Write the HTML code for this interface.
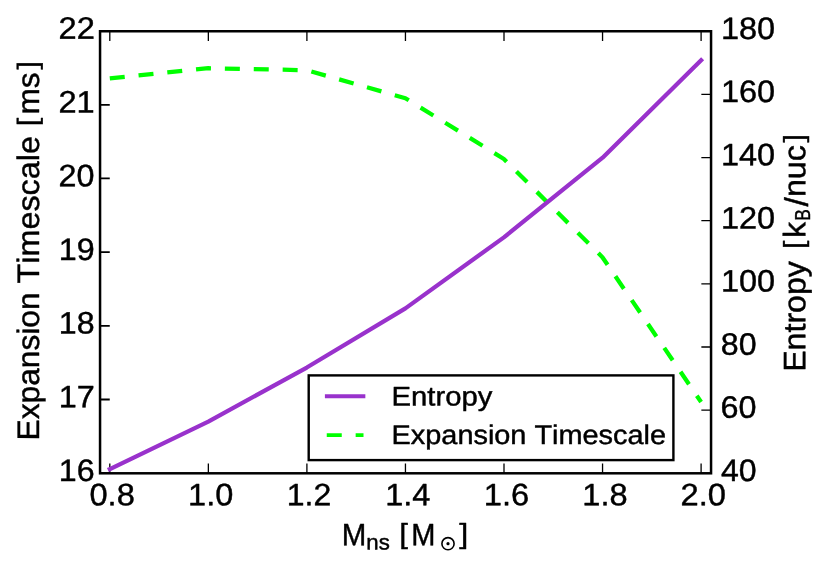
<!DOCTYPE html>
<html><head><meta charset="utf-8"><title>Entropy and Expansion Timescale vs neutron star mass</title>
<style>
html,body{margin:0;padding:0;background:#fff;}
svg{display:block;will-change:transform;}
g.t{filter:grayscale(1);}
text{text-rendering:geometricPrecision;font-family:"Liberation Sans",sans-serif;fill:#000;font-kerning:none;stroke:#000;stroke-width:0.45px;stroke-linejoin:round;}
</style></head>
<body>
<svg width="832" height="572" viewBox="0 0 832 572">
<rect x="0" y="0" width="832" height="572" fill="#fff"/>
<clipPath id="ax"><rect x="100.05" y="31.25" width="611.0" height="442.05"/></clipPath>
<polyline clip-path="url(#ax)" points="109.8,78.45 208.3,68.2 306.8,70.2 405.4,98.2 503.9,158.95 602.4,257.2 701.1,402.0" fill="none" stroke="#00ff00" stroke-width="4.25" stroke-linejoin="round" stroke-dasharray="15.0 13.9"/>
<path d="M109.80 473.3 v-9.7 M109.80 31.25 v9.7 M208.35 473.3 v-9.7 M208.35 31.25 v9.7 M306.90 473.3 v-9.7 M306.90 31.25 v9.7 M405.45 473.3 v-9.7 M405.45 31.25 v9.7 M504.00 473.3 v-9.7 M504.00 31.25 v9.7 M602.55 473.3 v-9.7 M602.55 31.25 v9.7 M701.10 473.3 v-9.7 M701.10 31.25 v9.7" stroke="#000" stroke-width="1.3" fill="none"/>
<path d="M100.05 473.15 h9.7 M100.05 399.48 h9.7 M100.05 325.80 h9.7 M100.05 252.12 h9.7 M100.05 178.45 h9.7 M100.05 104.78 h9.7 M100.05 31.10 h9.7" stroke="#000" stroke-width="1.8" fill="none"/>
<polyline clip-path="url(#ax)" points="109.8,469.1 208.3,421.6 306.8,367.55 405.4,308.35 503.9,237.35 602.6,157.65 701.1,60.25" fill="none" stroke="#9932cc" stroke-width="4.25" stroke-linejoin="round" stroke-linecap="square"/>
<path d="M711.05 473.30 h-9.7 M711.05 410.15 h-9.7 M711.05 347.00 h-9.7 M711.05 283.85 h-9.7 M711.05 220.70 h-9.7 M711.05 157.55 h-9.7 M711.05 94.40 h-9.7 M711.05 31.25 h-9.7" stroke="#000" stroke-width="1.3" fill="none"/>
<rect x="100.05" y="31.25" width="611.0" height="442.05" fill="none" stroke="#000" stroke-width="2.5"/>
<g>
<rect x="308.7" y="375.4" width="364.7" height="84.7" fill="#fff" stroke="#000" stroke-width="2.4"/>
<line x1="326.85" y1="396.3" x2="363.4" y2="396.3" stroke="#9932cc" stroke-width="3.9" stroke-linecap="square"/>
<line x1="326.75" y1="435.1" x2="363.5" y2="435.1" stroke="#00ff00" stroke-width="3.9" stroke-dasharray="15.0 13.9"/>
<g class="t">
<text transform="translate(391.55,405.50) rotate(0.03) scale(1.0828,1.0000)" font-size="27.0">Entropy</text>
<text transform="translate(391.58,443.90) rotate(0.03) scale(1.0695,1.0000)" font-size="27.0">Expansion Timescale</text>
</g>
</g>
<g class="t">
<text transform="translate(58.80,480.90) rotate(0.03) scale(1.0371,1.0000)" font-size="31.0">16</text>
<text transform="translate(58.79,407.23) rotate(0.03) scale(1.0438,1.0000)" font-size="31.0">17</text>
<text transform="translate(58.80,333.55) rotate(0.03) scale(1.0366,1.0000)" font-size="31.0">18</text>
<text transform="translate(58.79,259.88) rotate(0.03) scale(1.0407,1.0000)" font-size="31.0">19</text>
<text transform="translate(58.53,186.20) rotate(0.03) scale(1.0406,1.0000)" font-size="31.0">20</text>
<text transform="translate(58.51,112.53) rotate(0.03) scale(1.0507,1.0000)" font-size="31.0">21</text>
<text transform="translate(58.51,38.85) rotate(0.03) scale(1.0522,1.0000)" font-size="31.0">22</text>
<text transform="translate(720.89,481.00) rotate(0.03) scale(1.0330,1.0000)" font-size="31.0">40</text>
<text transform="translate(720.60,417.85) rotate(0.03) scale(1.0418,1.0000)" font-size="31.0">60</text>
<text transform="translate(720.78,354.70) rotate(0.03) scale(1.0362,1.0000)" font-size="31.0">80</text>
<text transform="translate(720.93,291.55) rotate(0.03) scale(1.0467,1.0000)" font-size="31.0">100</text>
<text transform="translate(720.93,228.40) rotate(0.03) scale(1.0467,1.0000)" font-size="31.0">120</text>
<text transform="translate(720.93,165.25) rotate(0.03) scale(1.0467,1.0000)" font-size="31.0">140</text>
<text transform="translate(720.93,102.10) rotate(0.03) scale(1.0467,1.0000)" font-size="31.0">160</text>
<text transform="translate(720.93,38.95) rotate(0.03) scale(1.0467,1.0000)" font-size="31.0">180</text>
<text transform="translate(89.47,505.20) rotate(0.03) scale(1.0520,1.0000)" font-size="31.0">0.8</text>
<text transform="translate(188.10,505.20) rotate(0.03) scale(1.0480,1.0000)" font-size="31.0">1.0</text>
<text transform="translate(286.69,505.20) rotate(0.03) scale(1.0323,1.0000)" font-size="31.0">1.2</text>
<text transform="translate(385.20,505.20) rotate(0.03) scale(1.0476,1.0000)" font-size="31.0">1.4</text>
<text transform="translate(483.73,505.20) rotate(0.03) scale(1.0546,1.0000)" font-size="31.0">1.6</text>
<text transform="translate(582.29,505.20) rotate(0.03) scale(1.0502,1.0000)" font-size="31.0">1.8</text>
<text transform="translate(680.61,505.20) rotate(0.03) scale(1.0536,1.0000)" font-size="31.0">2.0</text>
<text transform="translate(341.73,545.15) rotate(0.03) scale(0.9500,1.0000)" font-size="31.0">M</text>
<text transform="translate(366.27,549.50) rotate(0.03) scale(1.0292,1.0000)" font-size="21.6">ns</text>
<text transform="translate(399.23,543.20) rotate(0.03) scale(1.0064,0.8994)" font-size="31.0">[</text>
<text transform="translate(411.17,545.15) rotate(0.03) scale(0.9355,1.0000)" font-size="31.0">M</text>
<text transform="translate(459.19,543.20) rotate(0.03) scale(1.0551,0.8994)" font-size="31.0">]</text>
<text transform="translate(39.05,440.45) rotate(-89.97) scale(1.0227,1.0000)" font-size="31.0">Expansion</text>
<text transform="translate(39.05,283.58) rotate(-89.97) scale(1.0447,1.0000)" font-size="31.0">Timescale</text>
<text transform="translate(37.10,126.14) rotate(-89.97) scale(0.9902,0.8994)" font-size="31.0">[</text>
<text transform="translate(39.05,114.55) rotate(-89.97) scale(1.0198,1.0000)" font-size="31.0">ms</text>
<text transform="translate(37.10,69.49) rotate(-89.97) scale(0.9902,0.8994)" font-size="31.0">]</text>
<text transform="translate(805.30,371.78) rotate(-89.97) scale(1.0352,1.0000)" font-size="31.0">Entropy</text>
<text transform="translate(803.35,248.73) rotate(-89.97) scale(0.9415,0.8994)" font-size="31.0">[</text>
<text transform="translate(805.30,238.11) rotate(-89.97) scale(1.0330,1.0000)" font-size="31.0">k</text>
<text transform="translate(809.80,220.87) rotate(-89.97) scale(0.8003,1.0000)" font-size="21.6">B</text>
<text transform="translate(807.68,206.55) rotate(-89.97) scale(1.0798,1.0520)" font-size="31.0">/</text>
<text transform="translate(805.30,197.10) rotate(-89.97) scale(1.0423,1.0000)" font-size="31.0">nuc</text>
<text transform="translate(803.35,142.49) rotate(-89.97) scale(0.9739,0.8994)" font-size="31.0">]</text>
<circle cx="448.0" cy="543.7" r="6.1" fill="none" stroke="#000" stroke-width="1.6"/><circle cx="448.0" cy="543.7" r="1.6" fill="#000"/>
</g>
</svg>
</body></html>
